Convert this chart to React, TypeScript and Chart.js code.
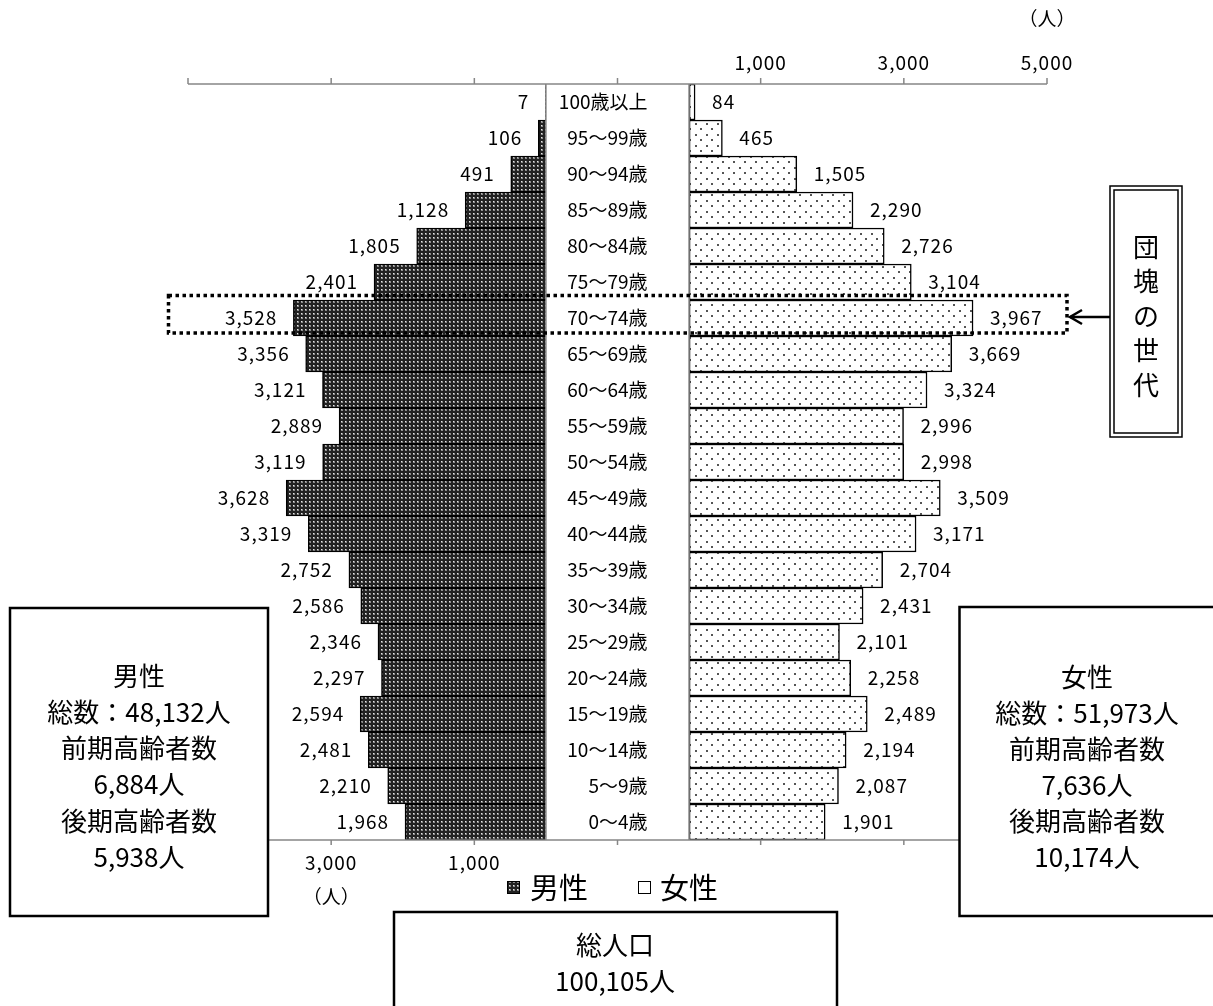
import React, { useEffect, useRef } from 'react';
import { Chart, registerables } from 'chart.js';

Chart.register(...registerables);

// ---------------- data ----------------
const ageGroups = [
  '100歳以上', '95～99歳', '90～94歳', '85～89歳', '80～84歳', '75～79歳', '70～74歳',
  '65～69歳', '60～64歳', '55～59歳', '50～54歳', '45～49歳', '40～44歳', '35～39歳',
  '30～34歳', '25～29歳', '20～24歳', '15～19歳', '10～14歳', '5～9歳', '0～4歳',
];
const maleValues = [
  7, 106, 491, 1128, 1805, 2401, 3528, 3356, 3121, 2889, 3119, 3628, 3319, 2752,
  2586, 2346, 2297, 2594, 2481, 2210, 1968,
];
const femaleValues = [
  84, 465, 1505, 2290, 2726, 3104, 3967, 3669, 3324, 2996, 2998, 3509, 3171, 2704,
  2431, 2101, 2258, 2489, 2194, 2087, 1901,
];
const seriesLabels = ['男性', '女性'];
const topTickValues = [1000, 3000, 5000];
const bottomTickValues = [3000, 1000];
const gridValues = [-6000, -4000, -2000, 0, 2000, 4000, 6000];
const unitLabel = '（人）';
const maleSummary = ['男性', '総数：48,132人', '前期高齢者数', '6,884人', '後期高齢者数', '5,938人'];
const femaleSummary = ['女性', '総数：51,973人', '前期高齢者数', '7,636人', '後期高齢者数', '10,174人'];
const totalSummary = ['総人口', '100,105人'];
const highlightText = ['団', '塊', 'の', '世', '代'];
const highlightGroup = '70～74歳';

// half width of the central label column, in axis units
const GAP = 1000;
const AXIS_MIN = -6000;
const AXIS_MAX = 6000;

const JP = '"Noto Sans CJK JP", "Noto Sans", sans-serif';
const AXIS_COLOR = '#868686';

const fmt = (v: number) => v.toLocaleString('en-US');

function makeMalePattern(ctx: CanvasRenderingContext2D) {
  const c = document.createElement('canvas');
  c.width = 4;
  c.height = 4;
  const g = c.getContext('2d')!;
  g.fillStyle = '#222222';
  g.fillRect(0, 0, 4, 4);
  g.fillStyle = '#8c8c8c';
  g.fillRect(1, 1, 2, 2);
  g.fillStyle = '#e6e6e6';
  g.fillRect(1, 1, 1, 1);
  return ctx.createPattern(c, 'repeat')!;
}

function makeFemalePattern(ctx: CanvasRenderingContext2D) {
  const c = document.createElement('canvas');
  c.width = 11;
  c.height = 11;
  const g = c.getContext('2d')!;
  g.fillStyle = '#ffffff';
  g.fillRect(0, 0, 11, 11);
  g.fillStyle = '#555555';
  g.fillRect(2, 2, 2, 2);
  g.fillRect(7, 7, 2, 2);
  return ctx.createPattern(c, 'repeat')!;
}

function line(ctx: CanvasRenderingContext2D, x1: number, y1: number, x2: number, y2: number) {
  ctx.beginPath();
  ctx.moveTo(x1, y1);
  ctx.lineTo(x2, y2);
  ctx.stroke();
}

function textBox(
  ctx: CanvasRenderingContext2D,
  x1: number, y1: number, x2: number, y2: number,
  lines: string[], cx: number, firstY: number, step: number, size: number,
) {
  ctx.fillStyle = '#ffffff';
  ctx.fillRect(x1, y1, x2 - x1, y2 - y1);
  ctx.strokeStyle = '#000';
  ctx.lineWidth = 2.5;
  ctx.strokeRect(x1, y1, x2 - x1, y2 - y1);
  ctx.fillStyle = '#000';
  ctx.font = `${size}px ${JP}`;
  ctx.textAlign = 'center';
  ctx.textBaseline = 'middle';
  lines.forEach((t, i) => ctx.fillText(t, cx, firstY + i * step));
}

function setSpacing(ctx: any, v: string) {
  if ('letterSpacing' in ctx) ctx.letterSpacing = v;
}

const decorPlugin = {
  id: 'pyramidDecor',
  afterDatasetsDraw(chart: any) {
    const { ctx, chartArea, scales } = chart;
    const xs = scales.x;
    const ys = scales.y;
    const top = chartArea.top;
    const bottom = chartArea.bottom;
    ctx.save();

    // zero lines of both halves
    ctx.strokeStyle = AXIS_COLOR;
    ctx.lineWidth = 1.5;
    [-GAP, GAP].forEach((v) => {
      const px = xs.getPixelForValue(v);
      line(ctx, px, top, px, bottom);
    });

    // top & bottom axes
    const xl = xs.getPixelForValue(AXIS_MIN);
    const xr = xs.getPixelForValue(AXIS_MAX);
    line(ctx, xl, top, xr, top);
    line(ctx, xl, bottom, xr, bottom);
    gridValues.forEach((v) => {
      const px = xs.getPixelForValue(v);
      line(ctx, px, top, px, top - 6);
      line(ctx, px, bottom, px, bottom + 5);
    });

    ctx.fillStyle = '#000';
    ctx.font = `19px ${JP}`;
    ctx.textBaseline = 'middle';
    ctx.textAlign = 'center';
    setSpacing(ctx, '1px');
    topTickValues.forEach((v) => ctx.fillText(fmt(v), xs.getPixelForValue(GAP + v), top - 21));
    bottomTickValues.forEach((v) => ctx.fillText(fmt(v), xs.getPixelForValue(-GAP - v), bottom + 23));
    setSpacing(ctx, '0px');
    ctx.fillText(unitLabel, xs.getPixelForValue(AXIS_MAX), 19);
    ctx.fillText(unitLabel, xs.getPixelForValue(-GAP - bottomTickValues[0]), bottom + 57);

    // value labels & age labels
    ageGroups.forEach((lab, i) => {
      const py = ys.getPixelForValue(i);
      setSpacing(ctx, '1px');
      ctx.textAlign = 'right';
      ctx.fillText(fmt(maleValues[i]), xs.getPixelForValue(-GAP - maleValues[i]) - 16, py);
      ctx.textAlign = 'left';
      ctx.fillText(fmt(femaleValues[i]), xs.getPixelForValue(GAP + femaleValues[i]) + 17, py);
      setSpacing(ctx, '0px');
      ctx.textAlign = 'right';
      ctx.fillText(lab, xs.getPixelForValue(0) + 30, py);
    });

    // dotted highlight rectangle
    const hi = ageGroups.indexOf(highlightGroup);
    const hy = ys.getPixelForValue(hi);
    ctx.strokeStyle = '#000';
    ctx.lineWidth = 3.5;
    ctx.setLineDash([3.5, 3.5]);
    ctx.strokeRect(168.5, hy - 22.5, 1067 - 168.5, 37.5);
    ctx.setLineDash([]);

    // arrow
    ctx.lineWidth = 2.5;
    line(ctx, 1070, hy - 1, 1111, hy - 1);
    ctx.beginPath();
    ctx.moveTo(1082, hy - 8);
    ctx.lineTo(1070, hy - 1);
    ctx.lineTo(1082, hy + 6);
    ctx.stroke();

    // 団塊の世代 box (double border)
    ctx.fillStyle = '#fff';
    ctx.fillRect(1110, 186, 72, 251);
    ctx.lineWidth = 1.5;
    ctx.strokeRect(1110, 186, 72, 251);
    ctx.strokeRect(1114, 190, 64, 243);
    ctx.fillStyle = '#000';
    ctx.font = `26px ${JP}`;
    ctx.textAlign = 'center';
    highlightText.forEach((t, i) => ctx.fillText(t, 1146, 247 + i * 34.5));

    // legend
    const patterns = chart.data.datasets.map((d: any) => d.backgroundColor);
    const legendY = 888;
    const items = [
      { sx: 507, tx: 530 },
      { sx: 638, tx: 660 },
    ];
    items.forEach((it, i) => {
      ctx.fillStyle = i === 0 ? patterns[i] : '#fff';
      ctx.fillRect(it.sx, legendY - 7, 13, 13);
      ctx.strokeStyle = '#000';
      ctx.lineWidth = 1;
      ctx.strokeRect(it.sx + 0.5, legendY - 6.5, 12, 12);
      ctx.fillStyle = '#000';
      ctx.font = `29px ${JP}`;
      ctx.textAlign = 'left';
      ctx.fillText(seriesLabels[i], it.tx, legendY);
    });

    // summary boxes
    textBox(ctx, 10, 608, 268, 916, maleSummary, 139, 676, 36.2, 26);
    textBox(ctx, 959.5, 607, 1240, 916, femaleSummary, 1087, 677, 36, 26);
    textBox(ctx, 394, 912, 837, 1040, totalSummary, 615, 945, 36, 26);

    ctx.restore();
  },
};

export default function App() {
  const ref = useRef<HTMLCanvasElement>(null);

  useEffect(() => {
    const canvas = ref.current!;
    const ctx = canvas.getContext('2d')!;
    const malePattern = makeMalePattern(ctx);
    const femalePattern = makeFemalePattern(ctx);

    const chart = new Chart(canvas, {
      type: 'bar',
      data: {
        labels: ageGroups,
        datasets: [
          {
            label: seriesLabels[0],
            data: maleValues.map((v) => [-GAP, -GAP - v]) as any,
            backgroundColor: malePattern as any,
            borderColor: '#000',
            borderWidth: 1.5,
            borderSkipped: 'start',
            grouped: false,
            barPercentage: 1,
            categoryPercentage: 1,
          },
          {
            label: seriesLabels[1],
            data: femaleValues.map((v) => [GAP, GAP + v]) as any,
            backgroundColor: femalePattern as any,
            borderColor: '#000',
            borderWidth: 1.5,
            borderSkipped: false,
            grouped: false,
            barPercentage: 1,
            categoryPercentage: 1,
          },
        ],
      },
      options: {
        indexAxis: 'y',
        responsive: false,
        maintainAspectRatio: false,
        animation: false,
        layout: { padding: { left: 188, right: 166, top: 84, bottom: 166 } },
        scales: {
          x: { type: 'linear', min: AXIS_MIN, max: AXIS_MAX, display: false },
          y: { type: 'category', display: false },
        },
        plugins: {
          legend: { display: false },
          tooltip: { enabled: false },
        },
      },
      plugins: [decorPlugin],
    });

    return () => chart.destroy();
  }, []);

  return (
    <div style={{ position: 'absolute', left: 0, top: 0, width: 1213, height: 1006, background: '#fff', overflow: 'hidden' }}>
      <canvas ref={ref} width={1213} height={1006} style={{ width: 1213, height: 1006, display: 'block' }} />
    </div>
  );
}
